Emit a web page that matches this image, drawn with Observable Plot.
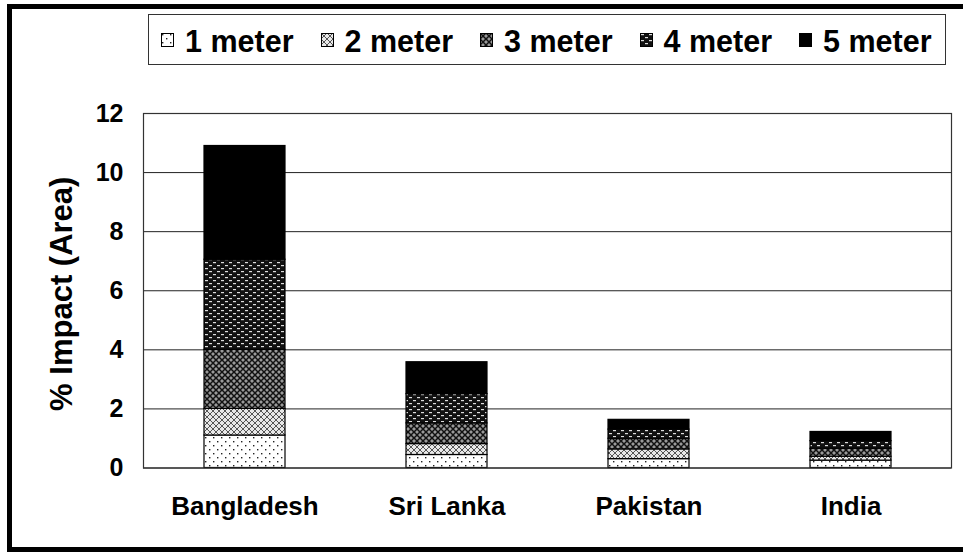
<!DOCTYPE html>
<html>
<head>
<meta charset="utf-8">
<script src="https://cdn.jsdelivr.net/npm/d3@7"></script>
<script src="https://cdn.jsdelivr.net/npm/@observablehq/plot@0.6"></script>
<style>
  html, body { margin: 0; padding: 0; background: #fff; width: 963px; height: 552px; overflow: hidden; }
  body { position: relative; font-family: "Liberation Sans", Arial, sans-serif; font-weight: bold; }
  #frame { position: absolute; left: 7px; top: 4px; width: 1000px; height: 548px; box-sizing: border-box;
           border-left: 5px solid #000; border-top: 5px solid #000; border-bottom: 5px solid #000; }
  #legend { position: absolute; left: 148px; top: 14px; width: 798px; height: 51px; box-sizing: border-box;
            border: 1px solid #333; display: flex; align-items: center; justify-content: flex-start; gap: 27px;
            padding-top: 4px; padding-left: 12px; }
  .item { display: flex; align-items: center; gap: 11px; font-size: 30.5px; font-weight: bold; color: #000; line-height: 1; }
  .item svg { display: block; margin-top: -3px; }
  #chart { position: absolute; left: 0; top: 0; }
</style>
</head>
<body>
<div id="frame"></div>
<div id="chart"></div>
<div id="legend"></div>
<script>
const countries = ["Bangladesh", "Sri Lanka", "Pakistan", "India"];
const seriesNames = ["1 meter", "2 meter", "3 meter", "4 meter", "5 meter"];
const m1 = [1.10, 0.44, 0.30, 0.25];
const m2 = [0.90, 0.37, 0.33, 0.13];
const m3 = [2.00, 0.70, 0.36, 0.27];
const m4 = [3.05, 0.99, 0.31, 0.26];
const m5 = [3.85, 1.08, 0.33, 0.31];
const yTicks = [0, 2, 4, 6, 8, 10, 12];
const yLabel = "% Impact (Area)";
const patternIds = ["p1", "p2", "p3", "p4", "p5"];

const seriesValues = [m1, m2, m3, m4, m5];
const data = [];
seriesNames.forEach((s, i) => countries.forEach((c, j) => data.push({country: c, series: s, value: seriesValues[i][j]})));

const plot = Plot.plot({
  width: 963,
  height: 552,
  marginLeft: 143,
  marginRight: 12,
  marginTop: 113,
  marginBottom: 84.5,
  style: {fontFamily: "'Liberation Sans', Arial, sans-serif", fontWeight: "bold", color: "#000", background: "transparent", overflow: "visible"},
  x: {domain: countries, paddingInner: 0.6, paddingOuter: 0.3, label: null},
  y: {domain: [0, 12], label: null},
  color: {domain: seriesNames, range: patternIds.map(id => `url(#${id})`)},
  marks: [
    Plot.ruleY(yTicks, {stroke: "#222", strokeWidth: 1}),
    Plot.barY(data, {x: "country", y: "value", fill: "series", stroke: "#000", strokeWidth: 1.2}),
    Plot.frame({stroke: "#333", strokeWidth: 1.2}),
    Plot.axisY(yTicks, {tickSize: 0, tickPadding: 20, fontSize: 25, fontWeight: "bold", label: null}),
    Plot.text([yLabel], {frameAnchor: "left", textAnchor: "middle", rotate: -90, dx: -81, dy: 3, fontSize: 31, fontWeight: "bold", fill: "#000"}),
    Plot.axisX({tickSize: 0, tickPadding: 29, fontSize: 26, fontWeight: "bold", label: null})
  ]
});

// pattern definitions
const svg = d3.select(plot);
function addDefs(sel) {
  const defs = sel.insert("defs", ":first-child");
  // p1: sparse dots
  let p = defs.append("pattern").attr("id", "p1").attr("patternUnits", "userSpaceOnUse").attr("width", 8).attr("height", 8);
  p.append("rect").attr("width", 8).attr("height", 8).attr("fill", "#fff");
  p.append("rect").attr("x", 1).attr("y", 1).attr("width", 1.4).attr("height", 1.4).attr("fill", "#222");
  p.append("rect").attr("x", 5).attr("y", 5).attr("width", 1.4).attr("height", 1.4).attr("fill", "#222");
  // p2: light crosshatch
  p = defs.append("pattern").attr("id", "p2").attr("patternUnits", "userSpaceOnUse").attr("width", 6).attr("height", 6);
  p.append("rect").attr("width", 6).attr("height", 6).attr("fill", "#e8e8e8");
  p.append("path").attr("d", "M0,0L6,6M6,0L0,6").attr("stroke", "#555").attr("stroke-width", 1);
  // p3: darker crosshatch
  p = defs.append("pattern").attr("id", "p3").attr("patternUnits", "userSpaceOnUse").attr("width", 6).attr("height", 6);
  p.append("rect").attr("width", 6).attr("height", 6).attr("fill", "#999");
  p.append("path").attr("d", "M0,0L6,6M6,0L0,6").attr("stroke", "#111").attr("stroke-width", 1.5);
  // p4: black with white dashes
  p = defs.append("pattern").attr("id", "p4").attr("patternUnits", "userSpaceOnUse").attr("width", 8).attr("height", 6);
  p.append("rect").attr("width", 8).attr("height", 6).attr("fill", "#111");
  p.append("rect").attr("x", 1).attr("y", 1).attr("width", 3).attr("height", 1.2).attr("fill", "#ddd");
  p.append("rect").attr("x", 5).attr("y", 4).attr("width", 3).attr("height", 1.2).attr("fill", "#ddd");
  // p5: solid
  p = defs.append("pattern").attr("id", "p5").attr("patternUnits", "userSpaceOnUse").attr("width", 4).attr("height", 4);
  p.append("rect").attr("width", 4).attr("height", 4).attr("fill", "#000");
}
addDefs(svg);
document.getElementById("chart").appendChild(plot);

// legend
const legend = d3.select("#legend");
seriesNames.forEach((s, i) => {
  const item = legend.append("div").attr("class", "item");
  const sw = item.append("svg").attr("width", 13).attr("height", 14);
  sw.append("rect").attr("x", 0.5).attr("y", 0.5).attr("width", 12).attr("height", 13)
    .attr("fill", `url(#${patternIds[i]})`).attr("stroke", "#000").attr("stroke-width", 1);
  item.append("span").text(s);
});
</script>
</body>
</html>
